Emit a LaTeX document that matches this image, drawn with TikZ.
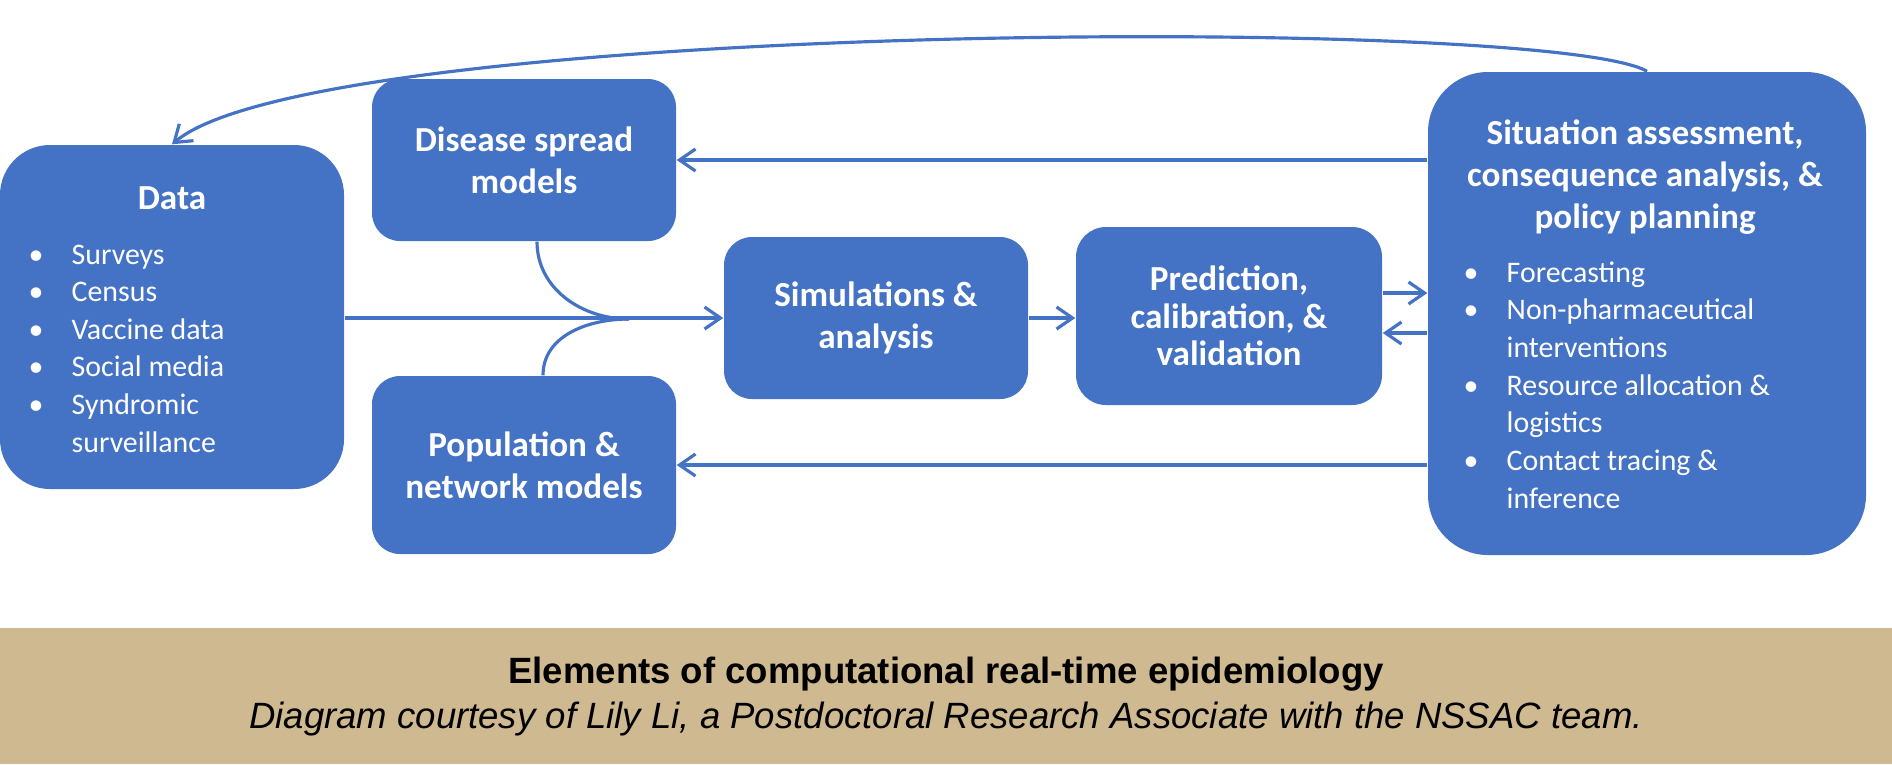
\documentclass[tikz,border=0pt]{standalone}
\usepackage{fontspec}
\setmainfont{Carlito}
\newfontfamily\capfont{Liberation Sans}
\usepackage{tikz}
\usetikzlibrary{positioning,arrows.meta}
\definecolor{boxblue}{HTML}{4472C4}
\definecolor{captan}{HTML}{CEB990}
\newcommand{\bul}{\makebox[4.3mm][l]{\textbullet}}
\newcommand{\ind}{\hspace*{4.3mm}}

\begin{document}
\begin{tikzpicture}[font=\fontsize{10}{12}\selectfont,
  blk/.style={rectangle,rounded corners=2.8mm,fill=boxblue,text=white,align=center,inner sep=0pt,
    minimum width=30.4mm,font=\fontsize{10}{12}\selectfont\bfseries},
  ttl/.style={text=white,align=center,inner sep=0pt,font=\fontsize{10}{12}\selectfont\bfseries},
  lst/.style={anchor=north west,align=left,inner sep=0pt,text=white,font=\fontsize{8.5}{10.7}\selectfont},
  ln/.style={line width=0.9pt,boxblue},
  ar/.style={ln,-{Straight Barb[length=1.6mm,width=2.2mm]}}]
\useasboundingbox (0,0) rectangle (18.92,-7.64);
% Caption band
\node[fill=captan,minimum width=18.92cm,minimum height=1.36cm,inner sep=0pt] (band) at (9.46,-6.96) {};
\node[anchor=base,font=\capfont\fontsize{10.4}{12}\selectfont\bfseries] (cap) at (9.46,-6.83) {Elements of computational real-time epidemiology};
\node[anchor=base,font=\capfont\fontsize{10.4}{12}\selectfont\itshape] (credit) at (9.46,-7.28) {Diagram courtesy of Lily Li, a Postdoctoral Research Associate with the NSSAC team.};
% Data
\node[blk,rounded corners=5mm,minimum width=34.4mm,minimum height=34.4mm] (data) at (1.72,-3.17) {};
\node[ttl] (datat) at (1.72,-1.98) {Data};
\node[lst] (datal) at (0.28,-2.44) {\bul Surveys\\ \bul Census\\ \bul Vaccine data\\ \bul Social media\\ \bul Syndromic\\ \ind surveillance};
% Models
\node[blk,minimum height=16.2mm] (dis) at (5.24,-1.60) {Disease spread\\models};
\node[blk,minimum height=17.8mm] (pop) at (5.24,-4.65) {Population \&\\network models};
% Simulation and prediction
\node[blk,minimum height=16.2mm] (sim) at (8.76,-3.18) {Simulations \&\\analysis};
\node[blk,minimum width=30.6mm,minimum height=17.8mm,rounded corners=3mm,font=\fontsize{10}{10.6}\selectfont\bfseries] (pred) at (12.29,-3.16) {Prediction,\\calibration, \&\\validation};
% Situation assessment
\node[blk,rounded corners=6mm,minimum width=43.8mm,minimum height=48.3mm] (sit) at (16.47,-3.135) {};
\node[ttl] (sitt) at (16.45,-1.77) {Situation assessment,\\consequence analysis, \&\\policy planning};
\node[lst] (sitl) at (14.63,-2.61) {\bul Forecasting\\ \bul Non-pharmaceutical\\ \ind interventions\\ \bul Resource allocation \&\\ \ind logistics\\ \bul Contact tracing \&\\ \ind inference};
% Connectors
\coordinate (mrg) at (6.29,-3.19);
\draw[ar] (data.east |- sim.west) -- (sim.west);
\draw[ln] ([xshift=1.3mm]dis.south) to[out=-90,in=180] (mrg);
\draw[ln] ([xshift=1.9mm]pop.north) to[out=90,in=180] (mrg);
\draw[ar] (sim.east) -- (sim.east -| pred.west);
\coordinate (po) at ([yshift=2.3mm]pred.east);
\coordinate (pb) at ([yshift=-1.7mm]pred.east);
\draw[ar] (po) -- (po -| sit.west);
\draw[ar] (pb -| sit.west) -- (pb);
\draw[ar] (sit.west |- dis.east) -- (dis.east);
\draw[ar] (sit.west |- pop.east) -- (pop.east);
\draw[ar] (sit.north) .. controls (15.5,-0.15) and (3.2,-0.2) .. (data.north);
\end{tikzpicture}
\end{document}
